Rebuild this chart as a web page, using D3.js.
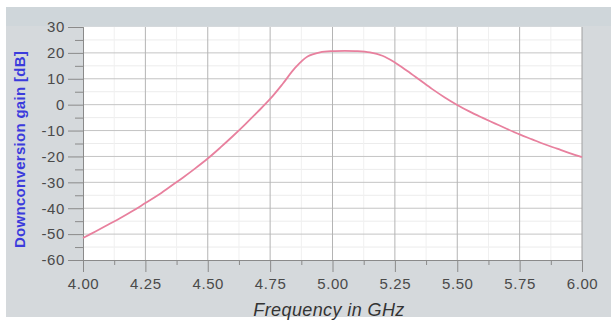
<!DOCTYPE html>
<html>
<head>
<meta charset="utf-8">
<script src="https://cdn.jsdelivr.net/npm/d3@7"></script>
<style>
  html, body { margin: 0; padding: 0; background: #fff; }
  svg { display: block; }
</style>
</head>
<body>
<div id="chart"></div>
<script>
// Frequency (GHz) and downconversion gain (dB)
const freq = [4.00, 4.05, 4.10, 4.15, 4.20, 4.25, 4.30, 4.35, 4.40, 4.45,
  4.50, 4.55, 4.60, 4.65, 4.70, 4.75, 4.80, 4.85, 4.90, 4.95,
  5.00, 5.05, 5.10, 5.15, 5.20, 5.25, 5.30, 5.35, 5.40, 5.45,
  5.50, 5.55, 5.60, 5.65, 5.70, 5.75, 5.80, 5.85, 5.90, 5.95, 6.00];
const gain = [-51.5, -49, -46.4, -43.8, -41, -38, -35, -31.6, -28.2, -24.6,
  -20.8, -16.6, -12.2, -7.6, -2.8, 2.2, 8.0, 14.2, 18.6, 20.2,
  20.7, 20.8, 20.7, 20.2, 18.9, 16.3, 13.0, 9.5, 6.0, 2.8,
  -0.1, -2.7, -5.0, -7.2, -9.4, -11.5, -13.4, -15.3, -17.0, -18.7, -20.3];

const xTicks = [4.00, 4.25, 4.50, 4.75, 5.00, 5.25, 5.50, 5.75, 6.00];
const yTicks = [30, 20, 10, 0, -10, -20, -30, -40, -50, -60];

const width = 611, height = 327;
const margin = { left: 83, top: 27, right: 29, bottom: 67 };
const font = "'Liberation Sans', Arial, sans-serif";

const svg = d3.select("#chart").append("svg")
  .attr("width", width)
  .attr("height", height);

//#region panel background
svg.append("rect")
  .attr("x", 6).attr("y", 7)
  .attr("width", width - 6).attr("height", 310)
  .attr("fill", "#d5d9dc");
svg.append("rect")
  .attr("x", 6).attr("y", 7)
  .attr("width", width - 6).attr("height", 19)
  .attr("fill", "#cfd6da");
//#endregion

const x = d3.scaleLinear().domain([4, 6]).range([margin.left, width - margin.right]);
const y = d3.scaleLinear().domain([-60, 30]).range([height - margin.bottom, margin.top]);

// plot area
svg.append("rect")
  .attr("x", x(4)).attr("y", y(30))
  .attr("width", x(6) - x(4)).attr("height", y(-60) - y(30))
  .attr("fill", "#fff");

//#region grid
const minorX = d3.range(4.125, 6, 0.25);
const minorY = d3.range(-55, 30, 10);

svg.append("g").selectAll("line")
  .data(minorY).join("line")
  .attr("x1", x(4)).attr("x2", x(6))
  .attr("y1", d => y(d)).attr("y2", d => y(d))
  .attr("stroke", "#ececec");

svg.append("g").selectAll("line")
  .data(minorX).join("line")
  .attr("x1", d => x(d)).attr("x2", d => x(d))
  .attr("y1", y(30)).attr("y2", y(-60))
  .attr("stroke", "#f0f0f0");

svg.append("g").selectAll("line")
  .data(yTicks.slice(1, -1)).join("line")
  .attr("x1", x(4)).attr("x2", x(6))
  .attr("y1", d => y(d)).attr("y2", d => y(d))
  .attr("stroke", "#c4c4c4");

svg.append("g").selectAll("line")
  .data(xTicks.slice(1, -1)).join("line")
  .attr("x1", d => x(d)).attr("x2", d => x(d))
  .attr("y1", y(30)).attr("y2", y(-60))
  .attr("stroke", "#b4b4b4");
//#endregion

//#region axes
const xAxis = d3.axisBottom(x)
  .tickValues(xTicks)
  .tickFormat(d => d.toFixed(2))
  .tickSize(12)
  .tickPadding(6);
const xMinor = d3.axisBottom(x).tickValues(minorX).tickSize(5).tickFormat("");

const yAxis = d3.axisLeft(y)
  .tickValues(yTicks)
  .tickFormat(d => String(d))
  .tickSize(15)
  .tickPadding(3);
const yMinor = d3.axisLeft(y).tickValues(minorY).tickSize(8).tickFormat("");

function styleAxis(g) {
  g.select(".domain").attr("stroke", "#8a8a8a");
  g.selectAll(".tick line").attr("stroke", "#8a8a8a");
  g.selectAll("text")
    .attr("fill", "#4a4a4a")
    .style("font-family", font)
    .style("font-size", "15px")
    .style("letter-spacing", "0.6px");
}

svg.append("g")
  .attr("transform", `translate(0, ${y(-60)})`)
  .call(xMinor).call(styleAxis);
svg.append("g")
  .attr("transform", `translate(0, ${y(-60)})`)
  .call(xAxis).call(styleAxis);
svg.append("g")
  .attr("transform", `translate(${x(4)}, 0)`)
  .call(yMinor).call(styleAxis);
svg.append("g")
  .attr("transform", `translate(${x(4)}, 0)`)
  .call(yAxis).call(styleAxis);

// right border
svg.append("line")
  .attr("x1", x(6)).attr("x2", x(6))
  .attr("y1", y(30)).attr("y2", y(-60))
  .attr("stroke", "#a0a0a0");
//#endregion

//#region curve
const line = d3.line()
  .x((d, i) => x(freq[i]))
  .y(d => y(d))
  .curve(d3.curveCatmullRom.alpha(0.5));

svg.append("path")
  .datum(gain)
  .attr("d", line)
  .attr("fill", "none")
  .attr("stroke", "#e8809e")
  .attr("stroke-width", 1.8);
//#endregion

//#region labels
svg.append("text")
  .text("Frequency in GHz")
  .attr("x", 329)
  .attr("y", 316)
  .attr("text-anchor", "middle")
  .attr("fill", "#333")
  .style("font-family", font)
  .style("font-style", "italic")
  .style("font-size", "18px")
  .style("letter-spacing", "0.4px");

svg.append("text")
  .text("Downconversion gain [dB]")
  .attr("transform", `translate(25, ${(y(30) + y(-60)) / 2 + 6}) rotate(-90)`)
  .attr("text-anchor", "middle")
  .attr("fill", "#3b3bdc")
  .style("font-family", font)
  .style("font-weight", "bold")
  .style("font-size", "15px")
  .style("letter-spacing", "0.3px");
//#endregion
</script>
</body>
</html>
